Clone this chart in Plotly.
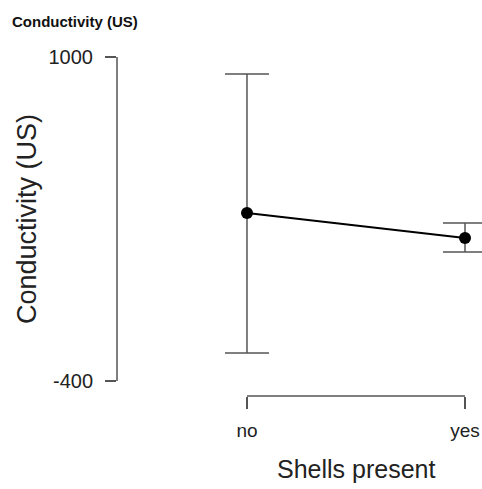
import plotly.graph_objects as go

categories = ["no", "yes"]
means = [326, 218]
upper = [927, 283]
lower = [-279, 157]
y_ticks = [-400, 1000]
y_tick_labels = ["-400", "1000"]
x_title = "Shells present"
y_title = "Conductivity (US)"
chart_title = "Conductivity (US)"

err_plus = [u - m for u, m in zip(upper, means)]
err_minus = [m - l for m, l in zip(means, lower)]

axis_color = "#555555"
font_family = "Liberation Sans, Arial, sans-serif"

fig = go.Figure()
fig.add_trace(go.Scatter(
    x=categories, y=means, mode="lines+markers",
    line=dict(color="black", width=2),
    marker=dict(color="black", size=12),
    error_y=dict(type="data", symmetric=False, array=err_plus, arrayminus=err_minus,
                 color=axis_color, thickness=1.5, width=22),
    showlegend=False, cliponaxis=False,
))

# R-style axis lines spanning only the data extents
fig.add_shape(type="line", xref="paper", yref="y", x0=0, x1=0, y0=y_ticks[0], y1=y_ticks[-1],
              line=dict(color=axis_color, width=1.5))
fig.add_shape(type="line", xref="x", yref="paper", x0=0, x1=len(categories) - 1, y0=0, y1=0,
              line=dict(color=axis_color, width=1.5))

fig.update_layout(
    width=482, height=489,
    margin=dict(l=117, r=0, t=50, b=93),
    plot_bgcolor="white", paper_bgcolor="white",
    font=dict(family=font_family, color="#222222"),
    xaxis=dict(type="category", range=[-0.5963, 1.078], showgrid=False, zeroline=False,
               showline=False, ticks="outside", ticklen=12, tickwidth=1.5, tickcolor=axis_color,
               tickfont=dict(size=19, color="#222222"), ticklabelstandoff=5,
               ticklabeloverflow="allow"),
    yaxis=dict(range=[-464.8, 1030.25], showgrid=False, zeroline=False, showline=False,
               tickvals=y_ticks, ticktext=y_tick_labels, ticks="outside", ticklen=11, tickwidth=1.5,
               tickcolor=axis_color, tickfont=dict(size=20, color="#222222"), ticklabelstandoff=8),
    annotations=[
        dict(text="<b>" + chart_title + "</b>", xref="paper", yref="paper", x=(10 - 117) / 365,
             y=1 + 29 / 346, xanchor="left", yanchor="middle", showarrow=False,
             font=dict(size=15, color="#111111")),
        dict(text=x_title, xref="x", yref="paper", x=0.5, y=-73 / 346, xanchor="center", yanchor="middle",
             showarrow=False, font=dict(size=25, color="#222222")),
        dict(text=y_title, xref="paper", yref="y", x=-90 / 365, y=300, xanchor="center", yanchor="middle",
             textangle=-90, showarrow=False, font=dict(size=27, color="#222222")),
    ],
)

fig.write_html(
    "out.html",
    config={"displayModeBar": False},
    post_script="document.body.style.margin='0';document.body.style.overflow='hidden';",
)
